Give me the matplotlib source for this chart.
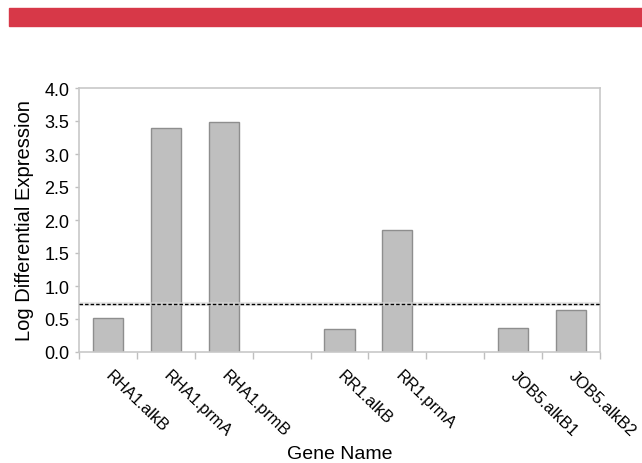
import numpy as np
import matplotlib
matplotlib.use("Agg")
import matplotlib.pyplot as plt
from matplotlib.patches import Rectangle

plt.rcParams['font.family'] = ['Liberation Sans', 'DejaVu Sans']

categories = ["RHA1.alkB", "RHA1.prmA", "RHA1.prmB", "", "RR1.alkB", "RR1.prmA", "", "JOB5.alkB1", "JOB5.alkB2"]
values = [0.51, 3.39, 3.48, np.nan, 0.35, 1.85, np.nan, 0.37, 0.64]
threshold = 0.72
yticks = [0.0, 0.5, 1.0, 1.5, 2.0, 2.5, 3.0, 3.5, 4.0]

W, H = 642, 464
fig = plt.figure(figsize=(W / 100, H / 100), dpi=100)

# red banner at top
fig.patches.append(Rectangle((9 / W, 1 - 27 / H), 1 - 9 / W, 18 / H,
                             transform=fig.transFigure, color="#d73848", zorder=0))

ax = fig.add_axes([79 / W, 1 - 353 / H, (600 - 79) / W, (353 - 89) / H])
x = np.arange(len(categories))
ax.bar(x, values, width=0.52, color="#bfbfbf", edgecolor="#8e8e8e", linewidth=1.0, zorder=2)
ax.axhline(threshold, color="#d8d8d8", linewidth=3, zorder=3, alpha=0.6)
ax.axhline(threshold, color="black", linewidth=1.0, linestyle=(0, (2.5, 1.5)), zorder=4)

ax.set_xlim(-0.5, len(categories) - 0.5)
ax.set_ylim(0, 4.0)
ax.set_yticks(yticks)
ax.set_yticklabels([f"{v:.1f}" for v in yticks], fontsize=13)

ax.set_xticks(np.arange(-0.5, len(categories), 1.0))
ax.set_xticklabels([])
ax.set_xticks(x, minor=True)
ax.set_xticklabels(categories, minor=True, rotation=-44, ha="left", va="center",
                   rotation_mode="anchor", fontsize=11.8)
ax.tick_params(axis="x", which="major", direction="out", length=5, color="#bfbfbf", width=1)
ax.tick_params(axis="x", which="minor", length=0, pad=15)
ax.tick_params(axis="y", direction="out", length=3, color="#bfbfbf", width=1, pad=4)

for s in ax.spines.values():
    s.set_color("#c8c8c8")
    s.set_linewidth(1.2)

ax.set_ylabel("Log Differential Expression", fontsize=14.5, labelpad=7)
fig.text(339.5 / W, 1 - 455 / H, "Gene Name", ha="center", va="center", fontsize=14)

fig.savefig("out.png", dpi=100)
